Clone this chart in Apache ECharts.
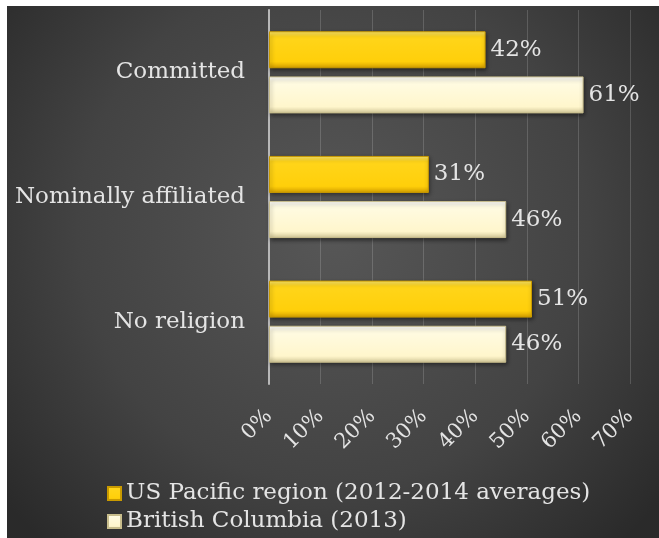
<!DOCTYPE html>
<html>
<head>
<meta charset="utf-8">
<script src="https://cdn.jsdelivr.net/npm/echarts@6/dist/echarts.min.js"></script>
<style>
  html, body { margin: 0; padding: 0; background: #fff; }
  #main { position: absolute; left: 7px; top: 6px; width: 652px; height: 532px; }
</style>
</head>
<body>
<div id="main"></div>
<script>
// data
var categories = ['Committed', 'Nominally affiliated', 'No religion'];
var seriesNames = ['US Pacific region (2012-2014 averages)', 'British Columbia (2013)'];
var usPacific = [42, 31, 51];
var britishColumbia = [61, 46, 46];
var xTicks = [0, 70, 10]; // min, max, interval

var FONT = '"DejaVu Serif", Georgia, serif';
var TXT = '#e4e4e4';

var goldFill = {
  type: 'linear', x: 0, y: 0, x2: 0, y2: 1,
  colorStops: [
    { offset: 0, color: '#ffea70' },
    { offset: 0.15, color: '#ffd51a' },
    { offset: 0.82, color: '#ffcf0a' },
    { offset: 1, color: '#d49f00' }
  ]
};
var creamFill = {
  type: 'linear', x: 0, y: 0, x2: 0, y2: 1,
  colorStops: [
    { offset: 0, color: '#ffffff' },
    { offset: 0.15, color: '#fffbe2' },
    { offset: 0.82, color: '#fff6cc' },
    { offset: 1, color: '#d3c898' }
  ]
};

function legendRow(name, top) {
  return {
    orient: 'vertical',
    left: 100,
    top: top,
    itemWidth: 13,
    itemHeight: 13,
    itemGap: 0,
    padding: 0,
    icon: 'rect',
    textStyle: { color: TXT, fontSize: 23, fontFamily: FONT },
    data: [name]
  };
}

var myChart = echarts.init(document.getElementById('main'));

myChart.setOption({
  backgroundColor: {
    type: 'radial', x: 0.5, y: 0.42, r: 0.8,
    colorStops: [
      { offset: 0, color: '#575757' },
      { offset: 0.6, color: '#434343' },
      { offset: 1, color: '#2a2a2a' }
    ]
  },
  animation: false,
  textStyle: { fontFamily: FONT },
  grid: { left: 262, right: 29, top: 4, bottom: 154 },
  legend: [legendRow(seriesNames[0], 476), legendRow(seriesNames[1], 504)],
  xAxis: {
    type: 'value',
    min: xTicks[0],
    max: xTicks[1],
    interval: xTicks[2],
    axisLine: { show: false },
    axisTick: { show: false },
    splitLine: { lineStyle: { color: 'rgba(255,255,255,0.16)', width: 1 } },
    axisLabel: {
      rotate: 45,
      margin: 29,
      color: TXT,
      fontSize: 21,
      fontFamily: FONT,
      formatter: '{value}%'
    }
  },
  yAxis: {
    type: 'category',
    inverse: true,
    data: categories,
    axisLine: { show: true, lineStyle: { color: '#b8b8b8', width: 2 } },
    axisTick: { show: false },
    axisLabel: { color: TXT, fontSize: 23, fontFamily: FONT, margin: 24 }
  },
  series: [
    {
      name: seriesNames[0],
      type: 'bar',
      data: usPacific,
      barWidth: 37,
      barGap: '22%',
      itemStyle: {
        color: goldFill,
        borderColor: '#c99a00',
        borderWidth: 1,
        shadowColor: 'rgba(0,0,0,0.45)',
        shadowBlur: 4,
        shadowOffsetX: 1,
        shadowOffsetY: 2
      },
      label: {
        show: true,
        position: 'right',
        distance: 5,
        color: TXT,
        fontSize: 23,
        fontFamily: FONT,
        formatter: '{c}%'
      }
    },
    {
      name: seriesNames[1],
      type: 'bar',
      data: britishColumbia,
      barWidth: 37,
      barGap: '22%',
      itemStyle: {
        color: creamFill,
        borderColor: '#c8bd8c',
        borderWidth: 1,
        shadowColor: 'rgba(0,0,0,0.45)',
        shadowBlur: 4,
        shadowOffsetX: 1,
        shadowOffsetY: 2
      },
      label: {
        show: true,
        position: 'right',
        distance: 5,
        color: TXT,
        fontSize: 23,
        fontFamily: FONT,
        formatter: '{c}%'
      }
    }
  ]
});
</script>
</body>
</html>
